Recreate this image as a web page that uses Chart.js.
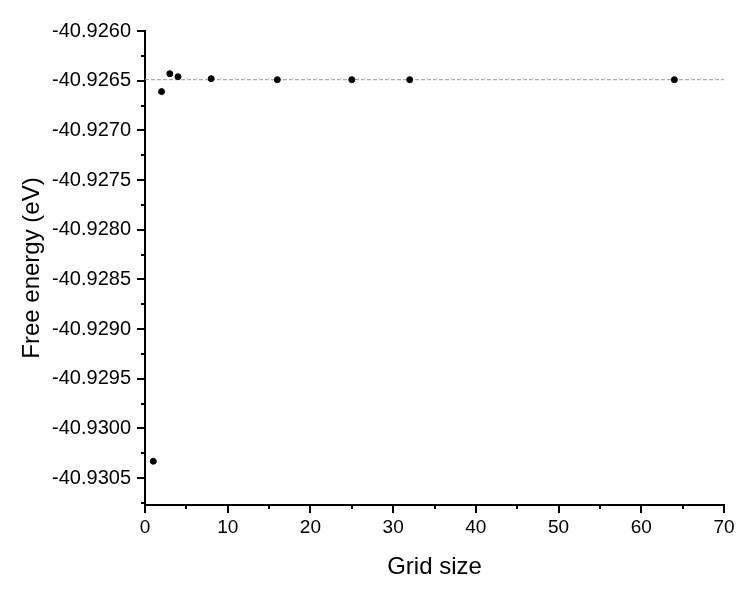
<!DOCTYPE html>
<html>
<head>
<meta charset="utf-8">
<script src="https://cdn.jsdelivr.net/npm/chart.js@4"></script>
<style>
  body { margin: 0; background: #fff; }
  #wrap { width: 754px; height: 600px; }
</style>
</head>
<body>
<div id="wrap"><canvas id="chart" width="754" height="600"></canvas></div>
<script>
// Grid size vs free energy
const gridSize = [1, 2, 3, 4, 8, 16, 25, 32, 64];
const freeEnergy = [-40.93033, -40.92661, -40.92643, -40.92646, -40.92648, -40.92649, -40.92649, -40.92649, -40.92649];

// converged value, drawn as a dashed guide line
const refX = [0, 70];
const refY = [-40.92649, -40.92649];

// axis ticks (labelled ones), minor ticks sit halfway between
const xMajorTicks = [0, 10, 20, 30, 40, 50, 60, 70];
const yMajorTicks = [-40.9260, -40.9265, -40.9270, -40.9275, -40.9280, -40.9285, -40.9290, -40.9295, -40.9300, -40.9305];
const yMin = -40.93077;
const yMax = -40.9260;

const FONT = '"Liberation Sans", Arial, sans-serif';

// draws the outside ticks: long for labelled, short for minor
const tickMarks = {
    id: 'tickMarks',
    afterDraw(chart) {
        const ctx = chart.ctx;
        const xs = chart.scales.x;
        const ys = chart.scales.y;
        const area = chart.chartArea;
        ctx.save();
        ctx.strokeStyle = '#000';
        ctx.lineWidth = 2;
        xs.ticks.forEach(t => {
            const px = Math.round(xs.getPixelForValue(t.value));
            const len = xMajorTicks.includes(t.value) ? 8 : 4;
            ctx.beginPath();
            ctx.moveTo(px, area.bottom);
            ctx.lineTo(px, area.bottom + len);
            ctx.stroke();
        });
        ys.ticks.forEach(t => {
            const py = Math.round(ys.getPixelForValue(t.value));
            const len = t.major ? 8 : 4;
            ctx.beginPath();
            ctx.moveTo(area.left, py);
            ctx.lineTo(area.left - len, py);
            ctx.stroke();
        });
        ctx.restore();
    }
};

const ctx = document.getElementById('chart').getContext('2d');
const chart = new Chart(ctx, {
    type: 'scatter',
    data: {
        datasets: [
            {
                label: 'converged',
                type: 'line',
                data: refX.map((x, i) => ({ x: x, y: refY[i] })),
                borderColor: '#9a9a9a',
                borderWidth: 1,
                borderDash: [4, 2],
                pointRadius: 0,
                fill: false,
                order: 2
            },
            {
                label: 'Free energy',
                data: gridSize.map((x, i) => ({ x: x, y: freeEnergy[i] })),
                backgroundColor: '#000',
                borderColor: '#000',
                pointRadius: 3,
                pointHoverRadius: 3,
                order: 1
            }
        ]
    },
    options: {
        responsive: false,
        animation: false,
        layout: { padding: { top: 31, right: 30, left: 0, bottom: 0 } },
        plugins: {
            legend: { display: false },
            tooltip: { enabled: false }
        },
        scales: {
            x: {
                type: 'linear',
                min: 0,
                max: 70,
                grid: { display: true, drawOnChartArea: false, drawTicks: false },
                border: { display: true, color: '#000', width: 2 },
                ticks: {
                    stepSize: 5,
                    autoSkip: false,
                    maxRotation: 0,
                    padding: 11,
                    color: '#000',
                    font: { family: FONT, size: 19 },
                    callback: v => xMajorTicks.includes(v) ? String(v) : ''
                },
                title: {
                    display: true,
                    text: 'Grid size',
                    color: '#000',
                    font: { family: FONT, size: 24 },
                    padding: { top: 0, bottom: 18 }
                },
                afterFit: s => { s.height = 95; }
            },
            y: {
                type: 'linear',
                min: yMin,
                max: yMax,
                grid: { display: true, drawOnChartArea: false, drawTicks: false },
                border: { display: true, color: '#000', width: 2 },
                afterBuildTicks: s => {
                    const t = [];
                    yMajorTicks.forEach(v => {
                        t.push({ value: v, major: true });
                        const m = v - 0.00025;
                        if (m >= yMin) t.push({ value: m, major: false });
                    });
                    s.ticks = t;
                },
                ticks: {
                    autoSkip: false,
                    padding: 14,
                    color: '#000',
                    font: { family: FONT, size: 20 },
                    callback: function(v, i, ticks) {
                        return ticks[i].major ? v.toFixed(4) : '';
                    }
                },
                title: {
                    display: true,
                    text: 'Free energy (eV)',
                    color: '#000',
                    font: { family: FONT, size: 24 },
                    padding: { top: 18, bottom: 0 }
                },
                afterFit: s => { s.width = 145; }
            }
        }
    },
    plugins: [tickMarks]
});
</script>
</body>
</html>
